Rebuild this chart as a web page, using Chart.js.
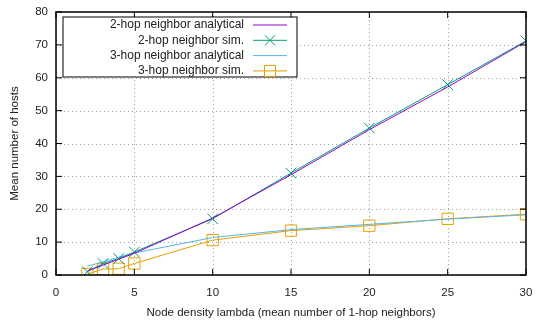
<!DOCTYPE html>
<html>
<head>
<meta charset="utf-8">
<script src="https://cdn.jsdelivr.net/npm/chart.js@4"></script>
<style>
  body { margin: 0; background: #fff; }
  canvas { display: block; }
</style>
</head>
<body>
<canvas id="hosts" width="535" height="320"></canvas>
<script>
// values
var lambdas = [2, 3, 4, 5, 10, 15, 20, 25, 30]
var twoHopAnalytical = [1.2, 3.0, 4.8, 6.6, 17.3, 30.5, 44.2, 57.2, 71.0]
var twoHopSim = [1.0, 3.5, 5.0, 7.0, 17.1, 31.0, 44.7, 57.9, 71.2]
var threeHopAnalytical = [2.7, 4.0, 5.4, 6.7, 11.4, 13.8, 15.4, 17.0, 18.3]
var threeHopSim = [0.3, 1.8, 1.9, 3.5, 10.6, 13.5, 15.0, 17.1, 18.5]
var xTicks = [0, 5, 10, 15, 20, 25, 30]
var yTicks = [0, 10, 20, 30, 40, 50, 60, 70, 80]

var FONT = "'Liberation Sans', Arial, sans-serif"

function pts(ys) {
  return lambdas.map(function (x, i) { return { x: x, y: ys[i] } })
}

// dotted grid under the data
var gridPlugin = {
  id: "dottedGrid",
  beforeDatasetsDraw: function (chart) {
    var ctx = chart.ctx
    var a = chart.chartArea
    ctx.save()
    ctx.strokeStyle = "#a0a0a0"
    ctx.lineWidth = 1
    ctx.setLineDash([1, 3])
    xTicks.forEach(function (t) {
      var px = Math.round(chart.scales.x.getPixelForValue(t)) + 0.5
      ctx.beginPath(); ctx.moveTo(px, a.top); ctx.lineTo(px, a.bottom); ctx.stroke()
    })
    yTicks.forEach(function (t) {
      var py = Math.round(chart.scales.y.getPixelForValue(t)) + 0.5
      ctx.beginPath(); ctx.moveTo(a.left, py); ctx.lineTo(a.right, py); ctx.stroke()
    })
    ctx.restore()
  },
}

// frame, inward ticks and gnuplot-style legend box
var framePlugin = {
  id: "frame",
  afterDraw: function (chart) {
    var ctx = chart.ctx
    var a = chart.chartArea
    var xs = chart.scales.x
    var ys = chart.scales.y
    ctx.save()
    ctx.strokeStyle = "#000"
    ctx.lineWidth = 1.5
    ctx.strokeRect(a.left, a.top, a.right - a.left, a.bottom - a.top)
    ctx.lineWidth = 1
    xTicks.forEach(function (t) {
      var px = xs.getPixelForValue(t)
      ctx.beginPath()
      ctx.moveTo(px, a.bottom); ctx.lineTo(px, a.bottom - 6)
      ctx.moveTo(px, a.top); ctx.lineTo(px, a.top + 6)
      ctx.stroke()
    })
    yTicks.forEach(function (t) {
      var py = ys.getPixelForValue(t)
      ctx.beginPath()
      ctx.moveTo(a.left, py); ctx.lineTo(a.left + 6, py)
      ctx.moveTo(a.right, py); ctx.lineTo(a.right - 6, py)
      ctx.stroke()
    })

    // legend
    var bx = 63, by = 17, bw = 234, bh = 60
    ctx.fillStyle = "#fff"
    ctx.fillRect(bx, by, bw, bh)
    ctx.strokeStyle = "#000"
    ctx.lineWidth = 1
    ctx.strokeRect(bx, by, bw, bh)
    ctx.font = "12px " + FONT
    ctx.textAlign = "right"
    ctx.textBaseline = "middle"
    chart.data.datasets.forEach(function (ds, i) {
      var ry = 25 + i * 15.3
      ctx.fillStyle = "#222"
      ctx.fillText(ds.label, 244, ry)
      ctx.strokeStyle = ds.borderColor
      ctx.lineWidth = 1
      ctx.beginPath()
      ctx.moveTo(253, ry); ctx.lineTo(287, ry)
      ctx.stroke()
      if (ds.pointStyle === "crossRot") {
        ctx.beginPath()
        ctx.moveTo(265, ry - 5); ctx.lineTo(275, ry + 5)
        ctx.moveTo(265, ry + 5); ctx.lineTo(275, ry - 5)
        ctx.stroke()
      } else if (ds.pointStyle === "rect") {
        ctx.strokeRect(264.5, ry - 5.5, 11, 11)
      }
    })
    ctx.restore()
  },
}

var ctxHosts = document.getElementById("hosts").getContext("2d")
var chartHosts = new Chart(ctxHosts, {
  type: "line",
  data: {
    datasets: [
      {
        label: "2-hop neighbor analytical",
        data: pts(twoHopAnalytical),
        borderColor: "#9400d3",
        borderWidth: 1,
        pointRadius: 0,
        tension: 0,
      },
      {
        label: "2-hop neighbor sim.",
        data: pts(twoHopSim),
        borderColor: "#009e73",
        backgroundColor: "#009e73",
        borderWidth: 1,
        pointStyle: "crossRot",
        pointRadius: 7.5,
        pointBorderWidth: 1,
        tension: 0,
      },
      {
        label: "3-hop neighbor analytical",
        data: pts(threeHopAnalytical),
        borderColor: "#56b4e9",
        borderWidth: 1,
        pointRadius: 0,
        tension: 0,
      },
      {
        label: "3-hop neighbor sim.",
        data: pts(threeHopSim),
        borderColor: "#e69f00",
        backgroundColor: "rgba(0,0,0,0)",
        borderWidth: 1,
        pointStyle: "rect",
        pointRadius: 8,
        pointBorderWidth: 1,
        tension: 0,
      },
    ],
  },
  options: {
    responsive: false,
    animation: false,
    layout: { padding: { top: 12, right: 7, left: 0, bottom: 0 } },
    scales: {
      x: {
        type: "linear",
        min: 0,
        max: 30,
        afterFit: function (s) {
          s.height = 45
          s.paddingLeft = 0
          s.paddingRight = 0
        },
        afterBuildTicks: function (s) { s.ticks = xTicks.map(function (v) { return { value: v } }) },
        grid: { display: false, drawTicks: false },
        border: { display: false },
        ticks: { color: "#222", padding: 11, maxRotation: 0, font: { family: FONT, size: 11.5 } },
        title: {
          display: true,
          text: "Node density lambda (mean number of 1-hop neighbors)",
          color: "#222",
          padding: { top: 4, bottom: 0 },
          font: { family: FONT, size: 11.5 },
        },
      },
      y: {
        min: 0,
        max: 80,
        afterFit: function (s) {
          s.width = 56
          s.paddingTop = 0
          s.paddingBottom = 0
        },
        afterBuildTicks: function (s) { s.ticks = yTicks.map(function (v) { return { value: v } }) },
        grid: { display: false, drawTicks: false },
        border: { display: false },
        ticks: { color: "#222", padding: 8, font: { family: FONT, size: 11.5 } },
        title: {
          display: true,
          text: "Mean number of hosts",
          color: "#222",
          padding: { top: 8, bottom: 0 },
          font: { family: FONT, size: 11.5 },
        },
      },
    },
    plugins: {
      legend: { display: false },
      tooltip: { enabled: false },
    },
  },
  plugins: [gridPlugin, framePlugin],
})
</script>
</body>
</html>
